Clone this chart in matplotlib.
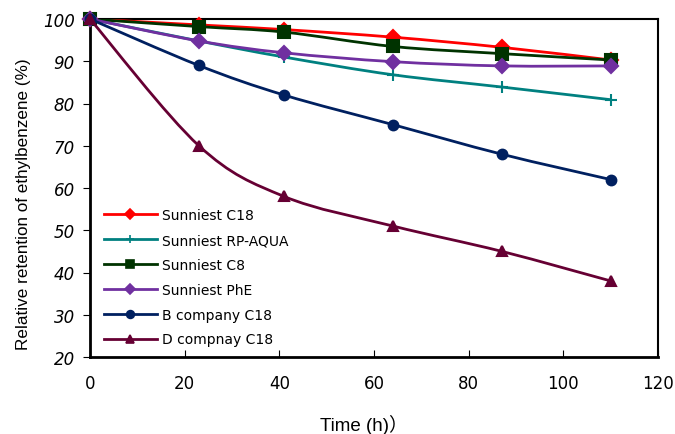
import numpy as np
import matplotlib.pyplot as plt
from matplotlib.path import Path
from matplotlib.patches import PathPatch
from matplotlib.lines import Line2D

# data
time_h = [0, 23, 41, 64, 87, 110]
sunniest_c18 = [100, 98.6, 97.5, 95.7, 93.3, 90.3]
sunniest_rp_aqua = [100, 94.8, 91, 86.8, 83.9, 80.9]
sunniest_c8 = [100, 98.2, 96.9, 93.5, 91.8, 90.3]
sunniest_phe = [100, 94.8, 92, 89.9, 88.9, 88.9]
b_company_c18 = [100, 89, 82, 75, 68, 62]
d_company_c18 = [100, 70, 58, 51, 45, 38]

series = [
    ('Sunniest C18', sunniest_c18, '#FF0000', 'D', 7),
    ('Sunniest RP-AQUA', sunniest_rp_aqua, '#008080', '+', 8),
    ('Sunniest C8', sunniest_c8, '#003300', 's', 8),
    ('Sunniest PhE', sunniest_phe, '#7030A0', 'D', 7),
    ('B company C18', b_company_c18, '#002060', 'o', 7),
    ('D compnay C18', d_company_c18, '#660033', '^', 7),
]


def smooth_path(x, y):
    # Excel-style smoothed line: cubic Bezier through each point
    pts = np.column_stack([x, y]).astype(float)
    verts = [pts[0]]
    codes = [Path.MOVETO]
    n = len(pts)
    for i in range(n - 1):
        p0 = pts[i - 1] if i > 0 else pts[i]
        p1 = pts[i]
        p2 = pts[i + 1]
        p3 = pts[i + 2] if i + 2 < n else pts[i + 1]
        c1 = p1 + (p2 - p0) / 6.0
        c2 = p2 - (p3 - p1) / 6.0
        verts += [c1, c2, p2]
        codes += [Path.CURVE4] * 3
    return Path(verts, codes)


fig = plt.figure(figsize=(6.75, 4.35), dpi=100)
ax = fig.add_axes([90 / 675, 1 - 358 / 435, 568 / 675, 338 / 435])

handles = []
for k, (name, vals, color, mk, ms) in enumerate(series):
    patch = PathPatch(smooth_path(time_h, vals), fill=False, edgecolor=color,
                      lw=2, zorder=3 + k, capstyle='round', joinstyle='round')
    ax.add_patch(patch)
    ax.plot(time_h, vals, ls='none', marker=mk, ms=ms, color=color,
            mew=1.5, zorder=3 + k, clip_on=False)
    handles.append(Line2D([], [], color=color, lw=2, marker=mk,
                          ms=ms * 0.8, mew=1.2))

ax.set_xlim(0, 120)
ax.set_ylim(20, 100)
ax.set_xticks(range(0, 121, 20))
ax.set_yticks(range(20, 101, 10))

for side in ['left', 'bottom']:
    ax.spines[side].set_linewidth(2)
for side in ['top', 'right']:
    ax.spines[side].set_linewidth(1.5)

ax.tick_params(axis='x', direction='in', length=5, pad=12, labelsize=12)
ax.tick_params(axis='y', direction='out', length=5, pad=6, labelsize=12)
for lab in ax.get_yticklabels():
    lab.set_fontstyle('italic')

ax.set_xlabel('Time (h)）', fontsize=13.5,
              family=['Liberation Sans', 'Noto Sans CJK SC'])
ax.set_ylabel('Relative retention of ethylbenzene (%)', fontsize=12.3,
              family='Liberation Sans')
ax.xaxis.set_label_coords(0.482, -0.168)
ax.yaxis.set_label_coords(-0.104, 0.456)

ax.legend(handles, [s[0] for s in series], loc='lower left',
          bbox_to_anchor=(0.0, -0.01), frameon=False, fontsize=10,
          handlelength=3.8, labelspacing=0.78, handletextpad=0.4,
          borderaxespad=0.6)

plt.savefig('out.png', dpi=100)
